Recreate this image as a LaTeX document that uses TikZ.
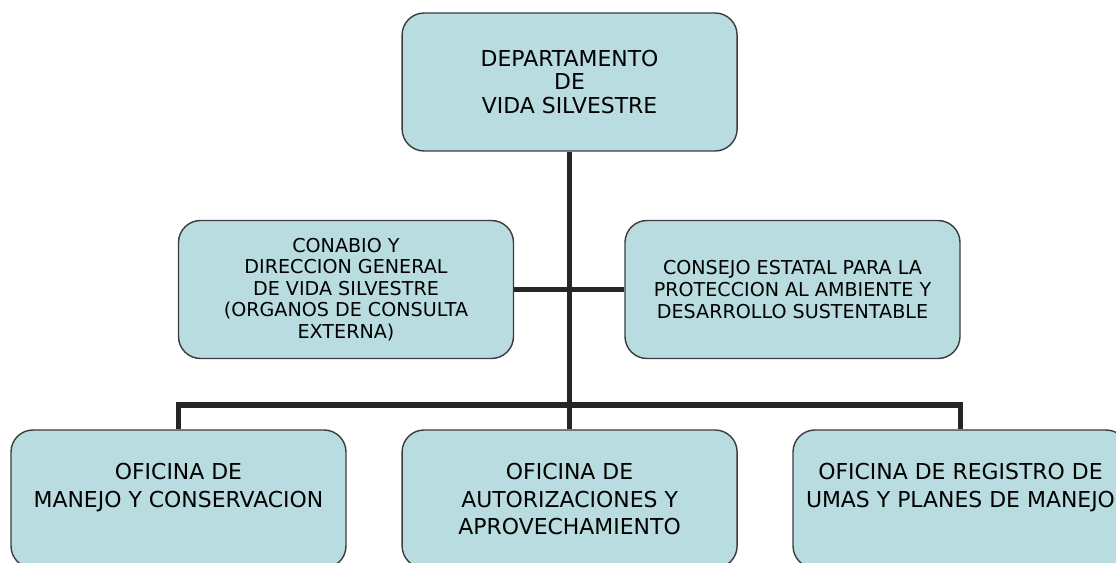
\documentclass[tikz,border=0pt]{standalone}
\usepackage{fontspec}
\setmainfont{DejaVu Sans}
\usepackage{tikz}
\usetikzlibrary{positioning}

\definecolor{cajafondo}{RGB}{184,220,223}
\definecolor{cajaborde}{RGB}{60,60,60}
\definecolor{linea}{RGB}{38,38,38}

\newcommand{\letrajefe}{\fontsize{15.6pt}{16.6pt}\selectfont}
\newcommand{\letramedia}{\fontsize{13.6pt}{15.4pt}\selectfont}
\newcommand{\letraofi}{\fontsize{15.6pt}{19.8pt}\selectfont}
\newcommand{\textofi}[1]{\parbox[c][1.8cm][t]{8cm}{\centering #1}}

\begin{document}
\begin{tikzpicture}[
		caja/.style={draw=cajaborde, fill=cajafondo, line width=1pt, rounded corners=0.55cm,
			minimum width=8.375cm, minimum height=3.45cm, align=center, text=black},
		enlace/.style={draw=linea, line width=3.6pt}
	]
		\clip (0,0) rectangle (27.9,14.05);
		
		% jefatura
		\node [caja, font=\letrajefe] (depto) at (14.24,12.0) {DEPARTAMENTO\\DE\\VIDA SILVESTRE};
		
		% organos de consulta
		\node [caja, font=\letramedia] (conabio) at (8.65,6.8125) {CONABIO Y\\DIRECCION GENERAL\\DE VIDA SILVESTRE\\(ORGANOS DE CONSULTA\\EXTERNA)};
		\node [caja, font=\letramedia] (consejo) at (19.8125,6.8125) {CONSEJO ESTATAL PARA LA\\PROTECCION AL AMBIENTE Y\\DESARROLLO SUSTENTABLE};
		
		% oficinas
		\node [caja, font=\letraofi] (ofmanejo) at (4.4625,1.575) {\textofi{OFICINA DE\\MANEJO Y CONSERVACION}};
		\node [caja, font=\letraofi] (ofaut) at (14.24,1.575) {\textofi{OFICINA DE\\AUTORIZACIONES Y\\APROVECHAMIENTO}};
		\node [caja, font=\letraofi] (ofreg) at (24.0125,1.575) {\textofi{OFICINA DE REGISTRO DE\\UMAS Y PLANES DE MANEJO}};
		
		\coordinate (barra) at (14.24,3.925);
		
		\draw [enlace] (depto.south) -- (ofaut.north);
		\draw [enlace] (conabio.east) -- (consejo.west);
		\draw [enlace] (ofmanejo.north) |- (barra) -| (ofreg.north);
\end{tikzpicture}
\end{document}
